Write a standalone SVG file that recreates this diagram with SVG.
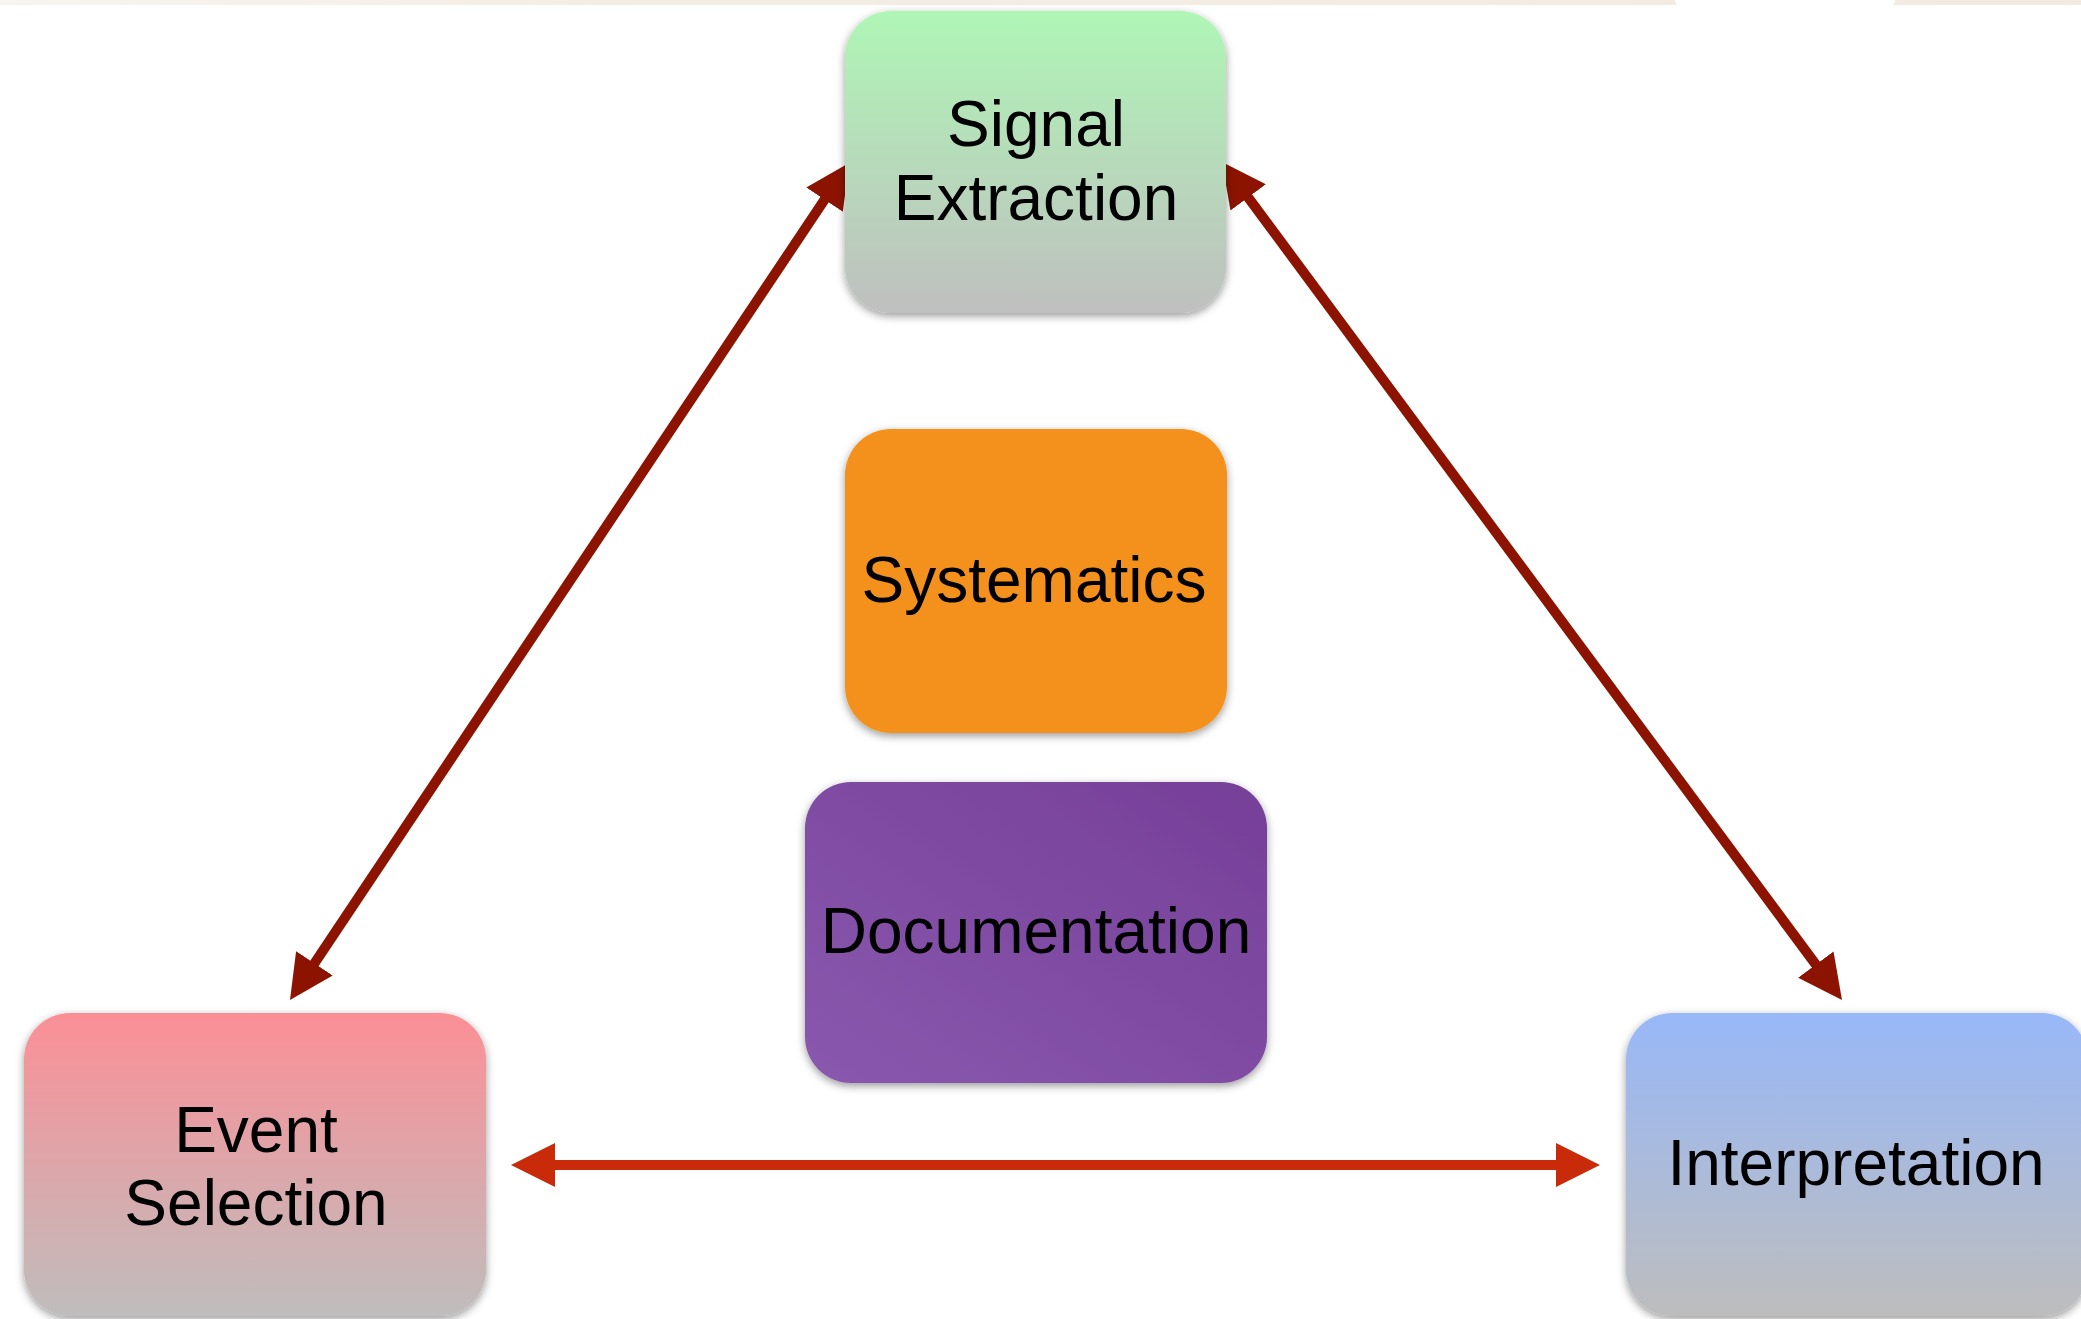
<svg xmlns="http://www.w3.org/2000/svg" width="2081" height="1319" viewBox="0 0 2081 1319">
  <defs>
    <linearGradient id="gGreen" x1="0" y1="0" x2="0" y2="1">
      <stop offset="0" stop-color="#aff6b6"/>
      <stop offset="1" stop-color="#bfbfbf"/>
    </linearGradient>
    <linearGradient id="gRed" x1="0" y1="0" x2="0" y2="1">
      <stop offset="0" stop-color="#fb8f96"/>
      <stop offset="1" stop-color="#bfbdbd"/>
    </linearGradient>
    <linearGradient id="gBlue" x1="0" y1="0" x2="0" y2="1">
      <stop offset="0" stop-color="#98b8f8"/>
      <stop offset="1" stop-color="#bdbdbd"/>
    </linearGradient>
    <linearGradient id="gPurple" x1="0" y1="1" x2="1" y2="0">
      <stop offset="0" stop-color="#8959ae"/>
      <stop offset="1" stop-color="#763e98"/>
    </linearGradient>
    <linearGradient id="gBand" x1="0" y1="0" x2="1" y2="0">
      <stop offset="0" stop-color="#f7f5ef"/>
      <stop offset="0.3" stop-color="#f4ede3"/>
      <stop offset="1" stop-color="#f3ebe1"/>
    </linearGradient>
    <filter id="shadow" x="-10%" y="-10%" width="120%" height="125%">
      <feDropShadow dx="0" dy="3" stdDeviation="4" flood-color="#000" flood-opacity="0.4"/>
    </filter>
    <marker id="headDark" markerUnits="userSpaceOnUse" markerWidth="44" markerHeight="44" viewBox="0 0 44 44" refX="4" refY="22" orient="auto-start-reverse">
      <path d="M0,0 L44,22 L0,44 Z" fill="#8b1300"/>
    </marker>
    <marker id="headBright" markerUnits="userSpaceOnUse" markerWidth="44" markerHeight="44" viewBox="0 0 44 44" refX="4" refY="22" orient="auto-start-reverse">
      <path d="M0,0 L44,22 L0,44 Z" fill="#c92a0a"/>
    </marker>
  </defs>
  <style>
    .box { filter: url(#shadow); }
    .label { font-family: "Liberation Sans", Arial, sans-serif; font-size: 64px; fill: #000; text-anchor: middle; }
    .dark { stroke: #8b1300; stroke-width: 10; fill: none; marker-start: url(#headDark); marker-end: url(#headDark); }
    .bright { stroke: #c92a0a; stroke-width: 10; fill: none; marker-start: url(#headBright); marker-end: url(#headBright); }
  </style>

  <rect width="2081" height="1319" fill="#ffffff"/>
  <!-- thin band along the top edge -->
  <rect x="0" y="0" width="2081" height="5" fill="url(#gBand)"/>
  <rect x="1675" y="-6" width="220" height="12" rx="6" fill="#ffffff"/>

  <!-- connectors -->
  <g id="connectors">
    <line class="dark" x1="312.2" y1="966.7" x2="826.8" y2="196.3"/>
    <line class="dark" x1="1245.8" y1="194.2" x2="1818.2" y2="967.8"/>
    <line class="bright" x1="551" y1="1165" x2="1560" y2="1165"/>
  </g>

  <g id="signal-extraction">
    <rect class="box" x="845" y="11" width="381" height="302" rx="46" fill="url(#gGreen)"/>
    <text class="label" x="1036" y="146">Signal</text>
    <text class="label" x="1036" y="220">Extraction</text>
  </g>

  <g id="systematics">
    <rect class="box" x="845" y="429" width="382" height="304" rx="46" fill="#f3911b"/>
    <text class="label" x="1034" y="602">Systematics</text>
  </g>

  <g id="documentation">
    <rect class="box" x="805" y="782" width="462" height="301" rx="46" fill="url(#gPurple)"/>
    <text class="label" x="1036" y="953">Documentation</text>
  </g>

  <g id="event-selection">
    <rect class="box" x="24" y="1013" width="462" height="303" rx="46" fill="url(#gRed)"/>
    <text class="label" x="256" y="1152">Event</text>
    <text class="label" x="256" y="1225">Selection</text>
  </g>

  <g id="interpretation">
    <rect class="box" x="1626" y="1013" width="462" height="303" rx="46" fill="url(#gBlue)"/>
    <text class="label" x="1856" y="1185">Interpretation</text>
  </g>
</svg>
